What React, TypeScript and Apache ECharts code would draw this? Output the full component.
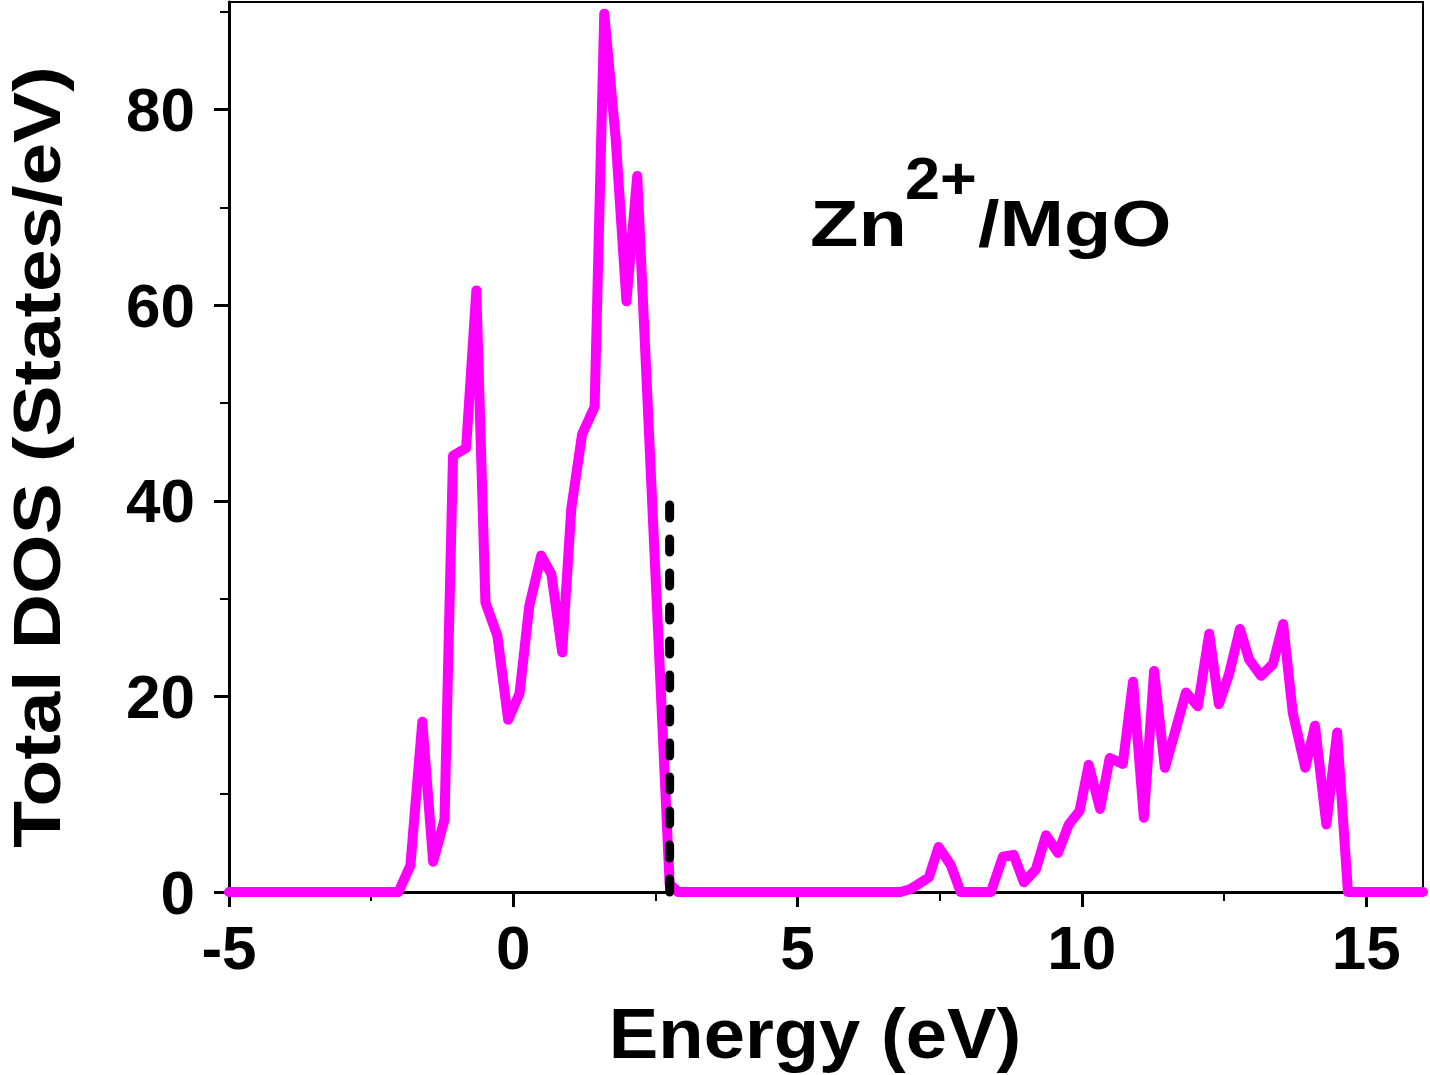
import React, { useEffect, useRef } from "react";
import * as echarts from "echarts";

// Total density of states for Zn2+/MgO: energy (eV) and DOS (states/eV)
const energy = [
  -5, -2.02, -1.81, -1.6, -1.41, -1.21, -1.06, -0.83, -0.65, -0.49, -0.28, -0.09,
  0.11, 0.28, 0.49, 0.67, 0.86, 1.02, 1.21, 1.43, 1.6, 1.8, 1.99, 2.18, 2.75, 2.9,
  6.81, 6.99, 7.31, 7.48, 7.69, 7.87, 8.4, 8.61, 8.8, 8.98, 9.19, 9.37, 9.58, 9.77,
  9.96, 10.12, 10.32, 10.49, 10.72, 10.9, 11.09, 11.27, 11.46, 11.65, 11.83, 12.04,
  12.24, 12.41, 12.59, 12.78, 12.94, 13.15, 13.36, 13.54, 13.71, 13.93, 14.1, 14.3,
  14.49, 14.68, 16,
];
const dos = [
  0, 0, 2.7, 17.4, 3.1, 7.4, 44.6, 45.4, 61.5, 29.6, 26.2, 17.6,
  20.3, 29.2, 34.4, 32.5, 24.5, 39.2, 46.8, 49.6, 89.8, 77.1, 60.4, 73.2, 0.8, 0,
  0, 0.3, 1.5, 4.6, 2.8, 0, 0, 3.6, 3.8, 1.0, 2.3, 5.8, 4.0, 6.9,
  8.3, 13.0, 8.5, 13.7, 13.1, 21.5, 7.6, 22.6, 12.7, 16.6, 20.4, 19.0,
  26.4, 19.2, 22.3, 26.9, 23.8, 22.1, 23.3, 27.4, 18.3, 12.7, 17.0, 6.9,
  16.3, 0, 0,
];

// Fermi level marker
const fermiEnergy = 2.75;
const fermiMarkerTop = 40;

// Axis ranges and ticks
const xRange = [-5, 16];
const yRange = [0, 91];
const xMajorTicks = [-5, 0, 5, 10, 15];
const xMinorTicks = [-2.5, 2.5, 7.5, 12.5];
const yMajorTicks = [0, 20, 40, 60, 80];
const yMinorTicks = [10, 30, 50, 70, 90];

// Texts
const xTitle = "Energy (eV)";
const yTitle = "Total DOS (States/eV)";
const systemName = ["Zn", "2+", "/MgO"];

const FONT = '"Liberation Sans", Arial, Helvetica, sans-serif';

export default function App() {
  const ref = useRef<HTMLDivElement>(null);

  useEffect(() => {
    if (!ref.current) return;
    const chart = echarts.init(ref.current, undefined, { renderer: "svg" });

    const labelStyle = {
      fontFamily: FONT,
      fontWeight: "bold" as const,
      color: "#000",
      fontSize: 62,
    };

    const boldText = (size: number) => ({
      fontFamily: FONT,
      fontWeight: "bold",
      fontSize: size,
      fill: "#000",
    });

    const hiddenAxis = {
      axisLabel: { show: false },
      splitLine: { show: false },
    };

    chart.setOption({
      animation: false,
      backgroundColor: "#fff",
      grid: {
        left: 229,
        right: 7,
        top: 2,
        bottom: 183,
        containLabel: false,
        outerBoundsMode: "none",
      },
      xAxis: [
        {
          type: "value",
          position: "bottom",
          min: xRange[0],
          max: xRange[1],
          axisLine: { show: true, onZero: false, lineStyle: { color: "#000", width: 3 } },
          axisTick: {
            show: true,
            customValues: xMajorTicks,
            length: 15,
            lineStyle: { color: "#000", width: 3 },
          },
          axisLabel: { show: true, customValues: xMajorTicks, margin: 24, ...labelStyle },
          splitLine: { show: false },
        },
        {
          type: "value",
          position: "bottom",
          min: xRange[0],
          max: xRange[1],
          axisLine: { show: false, onZero: false },
          axisTick: {
            show: true,
            customValues: xMinorTicks,
            length: 9,
            lineStyle: { color: "#000", width: 2 },
          },
          ...hiddenAxis,
        },
        {
          type: "value",
          position: "top",
          min: xRange[0],
          max: xRange[1],
          axisLine: { show: true, onZero: false, lineStyle: { color: "#000", width: 2 } },
          axisTick: { show: false },
          ...hiddenAxis,
        },
      ],
      yAxis: [
        {
          type: "value",
          position: "left",
          min: yRange[0],
          max: yRange[1],
          axisLine: { show: true, onZero: false, lineStyle: { color: "#000", width: 3 } },
          axisTick: {
            show: true,
            customValues: yMajorTicks,
            length: 15,
            lineStyle: { color: "#000", width: 3 },
          },
          axisLabel: { show: true, customValues: yMajorTicks, margin: 34, ...labelStyle },
          splitLine: { show: false },
        },
        {
          type: "value",
          position: "left",
          min: yRange[0],
          max: yRange[1],
          axisLine: { show: false, onZero: false },
          axisTick: {
            show: true,
            customValues: yMinorTicks,
            length: 9,
            lineStyle: { color: "#000", width: 2 },
          },
          ...hiddenAxis,
        },
        {
          type: "value",
          position: "right",
          min: yRange[0],
          max: yRange[1],
          axisLine: { show: true, onZero: false, lineStyle: { color: "#000", width: 2 } },
          axisTick: { show: false },
          ...hiddenAxis,
        },
      ],
      series: [
        {
          type: "line",
          name: "Total DOS",
          xAxisIndex: 0,
          yAxisIndex: 0,
          data: energy.map((e, i) => [e, dos[i]]),
          showSymbol: false,
          clip: false,
          lineStyle: { color: "#ff00ff", width: 10, cap: "round", join: "round" },
          z: 3,
        },
        {
          type: "line",
          name: "Fermi level",
          xAxisIndex: 0,
          yAxisIndex: 0,
          data: [
            [fermiEnergy, 0],
            [fermiEnergy, fermiMarkerTop],
          ],
          showSymbol: false,
          clip: false,
          lineStyle: { color: "#000", width: 9, type: [13, 21], cap: "round" },
          z: 4,
        },
      ],
      graphic: [
        // axis titles
        {
          type: "text",
          x: 815,
          y: 1034,
          scaleX: 1.06,
          style: { text: xTitle, ...boldText(70), align: "center", verticalAlign: "middle" },
        },
        {
          type: "text",
          x: 37,
          y: 457,
          rotation: Math.PI / 2,
          scaleX: 1.16,
          style: {
            text: yTitle,
            ...boldText(66),
            align: "center",
            verticalAlign: "middle",
          },
        },
        // system label
        {
          type: "text",
          x: 810,
          y: 224,
          scaleX: 1.24,
          style: { text: systemName[0], ...boldText(64), verticalAlign: "middle" },
        },
        {
          type: "text",
          x: 905,
          y: 178,
          scaleX: 1.05,
          style: { text: systemName[1], ...boldText(60), verticalAlign: "middle" },
        },
        {
          type: "text",
          x: 978,
          y: 224,
          scaleX: 1.21,
          style: { text: systemName[2], ...boldText(64), verticalAlign: "middle" },
        },
      ],
    });

    return () => chart.dispose();
  }, []);

  return (
    <div
      ref={ref}
      style={{ position: "fixed", left: 0, top: 0, width: 1430, height: 1075, background: "#fff" }}
    />
  );
}
